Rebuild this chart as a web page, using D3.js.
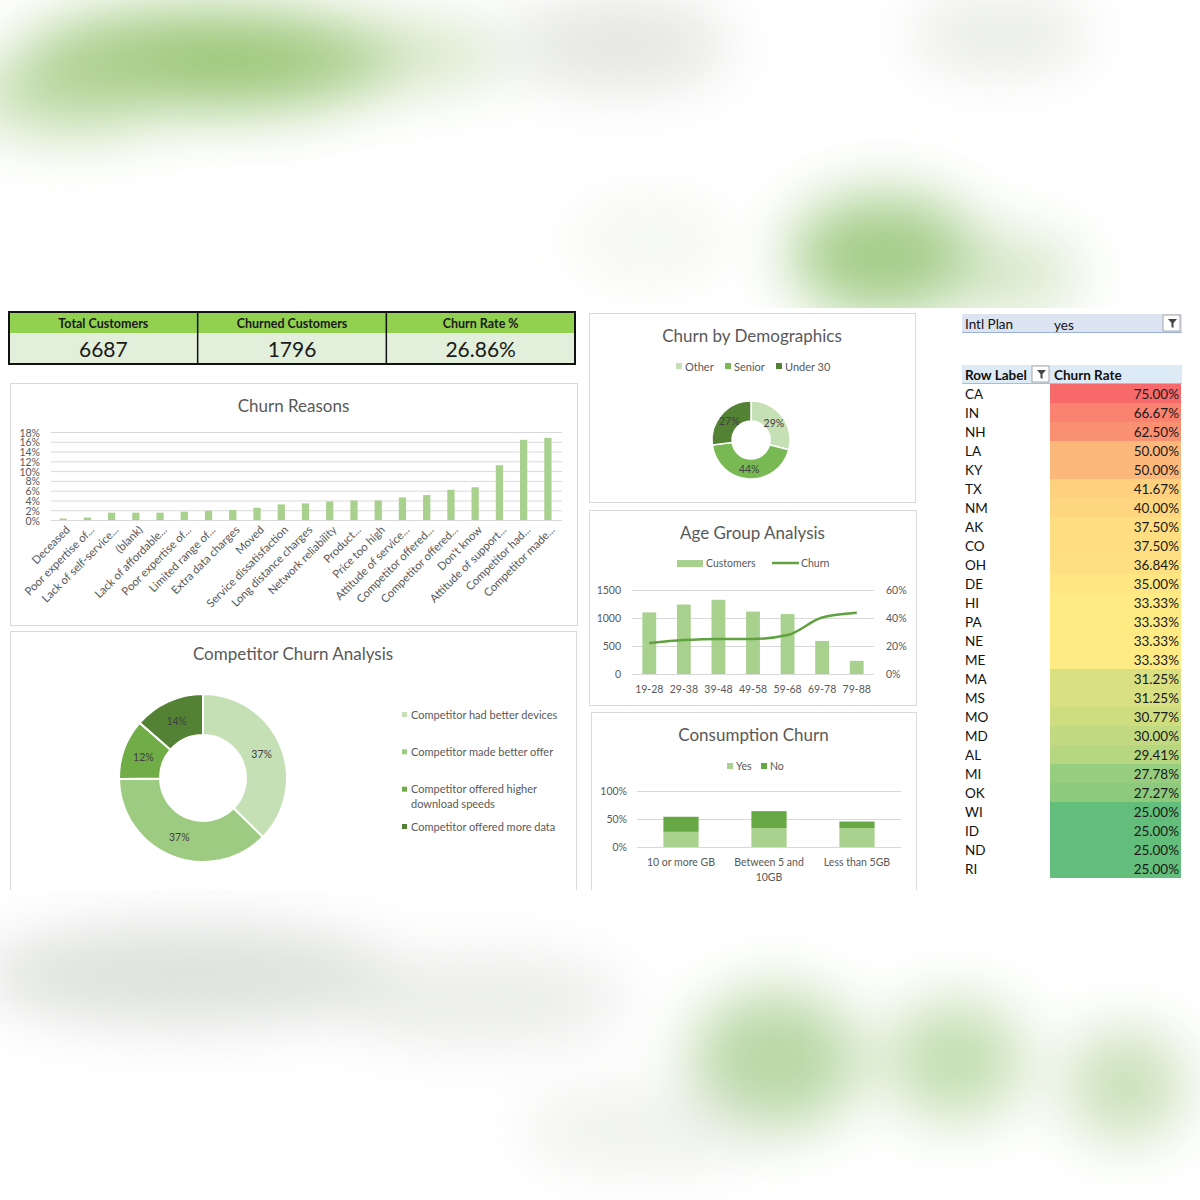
<!DOCTYPE html>
<html>
<head>
<meta charset="utf-8">
<script src="https://cdn.jsdelivr.net/npm/d3@7"></script>
<style>
  body { margin: 0; background: #fff; }
  svg { display: block; font-family: Lato, 'Open Sans', sans-serif; }
</style>
</head>
<body>
<svg id="chart" width="1200" height="1200"></svg>
<script>
// ---- data ----
const kpiLabels = ['Total Customers', 'Churned Customers', 'Churn Rate %'];
const kpiValues = ['6687', '1796', '26.86%'];

const reasonLabels = [
  'Deceased', 'Poor expertise of...', 'Lack of self-service...', '(blank)',
  'Lack of affordable...', 'Poor expertise of...', 'Limited range of...',
  'Extra data charges', 'Moved', 'Service dissatisfaction', 'Long distance charges',
  'Network reliability', 'Product...', 'Price too high', 'Attitude of service...',
  'Competitor offered...', 'Competitor offered...', "Don't know",
  'Attitude of support...', 'Competitor had...', 'Competitor made...'
];
const reasonShares = [
  0.003, 0.005, 0.015, 0.015, 0.015, 0.017, 0.019, 0.0205, 0.025, 0.032, 0.034,
  0.038, 0.040, 0.040, 0.046, 0.051, 0.062, 0.067, 0.112, 0.164, 0.168
];

const competitorLabels = [
  'Competitor had better devices', 'Competitor made better offer',
  'Competitor offered higher download speeds', 'Competitor offered more data'
];
const competitorShares = [37.4, 37.4, 11.6, 13.6];

const demoGroups = ['Other', 'Senior', 'Under 30'];
const demoShares = [29, 44, 27];

const ageGroups = ['19-28', '29-38', '39-48', '49-58', '59-68', '69-78', '79-88'];
const ageCustomers = [1100, 1240, 1325, 1115, 1070, 590, 235];
const ageChurn = [0.221, 0.242, 0.25, 0.25, 0.278, 0.403, 0.437];

const usageGroups = ['10 or more GB', 'Between 5 and 10GB', 'Less than 5GB'];
const usageYes = [0.27, 0.34, 0.34];
const usageNo = [0.27, 0.30, 0.115];

const states = ['CA', 'IN', 'NH', 'LA', 'KY', 'TX', 'NM', 'AK', 'CO', 'OH', 'DE', 'HI', 'PA',
  'NE', 'ME', 'MA', 'MS', 'MO', 'MD', 'AL', 'MI', 'OK', 'WI', 'ID', 'ND', 'RI'];
const stateRates = [75.00, 66.67, 62.50, 50.00, 50.00, 41.67, 40.00, 37.50, 37.50, 36.84, 35.00,
  33.33, 33.33, 33.33, 33.33, 31.25, 31.25, 30.77, 30.00, 29.41, 27.78, 27.27, 25.00, 25.00, 25.00, 25.00];

// ---- styles ----
const grey = '#595959';
const gridColor = '#D9D9D9';
const greens = { pale: '#C5E0B4', light: '#A9D18E', mid: '#70AD47', dark: '#548235' };
const mid = '0.42em';

const svg = d3.select('#chart');

// ---- blurred backdrop ----
const defs = svg.append('defs');
defs.append('filter')
  .attr('id', 'blur')
  .attr('x', '-100%').attr('y', '-100%')
  .attr('width', '300%').attr('height', '300%')
  .append('feGaussianBlur')
  .attr('stdDeviation', 30);
defs.append('clipPath')
  .attr('id', 'board')
  .append('rect')
  .attr('x', 0).attr('y', 308).attr('width', 1200).attr('height', 582);

const blobs = [
  [210, 60, 190, 50, '#97C472', 0.95], [70, 95, 100, 40, '#B4D499', 0.8],
  [410, 55, 100, 32, '#B3D198', 0.55], [620, 45, 110, 45, '#D8DCD5', 0.7],
  [1000, 35, 90, 35, '#E1E5DE', 0.8], [885, 255, 95, 60, '#9FCA82', 0.95],
  [1010, 275, 70, 40, '#C4DDB2', 0.7], [650, 240, 80, 40, '#EEF2EA', 0.6],
  [190, 975, 210, 50, '#D6D9D4', 0.8], [480, 1000, 150, 45, '#E3E5E1', 0.7],
  [775, 1060, 85, 70, '#B3D49C', 0.9], [955, 1060, 70, 60, '#BAD8A4', 0.85],
  [1125, 1085, 60, 55, '#BBD7A5', 0.8], [640, 1130, 120, 40, '#E6E9E3', 0.6]
];
svg.append('g')
  .attr('filter', 'url(#blur)')
  .selectAll('ellipse')
  .data(blobs)
  .join('ellipse')
  .attr('cx', d => d[0]).attr('cy', d => d[1])
  .attr('rx', d => d[2]).attr('ry', d => d[3])
  .attr('fill', d => d[4]).attr('opacity', d => d[5]);

const board = svg.append('g').attr('clip-path', 'url(#board)');
board.append('rect')
  .attr('x', 0).attr('y', 308).attr('width', 1200).attr('height', 582)
  .attr('fill', '#fff');

// ---- helpers ----
const panel = (x, y, w, h, title, titleY) => {
  const g = board.append('g');
  g.append('rect')
    .attr('x', x + 0.5).attr('y', y + 0.5)
    .attr('width', w).attr('height', h)
    .attr('fill', '#fff').attr('stroke', gridColor);
  g.append('text')
    .attr('x', x + w / 2).attr('y', titleY)
    .attr('dy', mid)
    .attr('text-anchor', 'middle')
    .attr('font-size', 17)
    .attr('fill', grey)
    .text(title);
  return g;
};

const styleAxis = (g, size) => {
  g.select('.domain').remove();
  g.selectAll('.tick line').attr('stroke', gridColor);
  g.selectAll('.tick text').attr('fill', grey).attr('font-size', size).attr('font-family', 'Lato, sans-serif');
};

const wrapText = (text, width) => {
  text.each(function() {
    const self = d3.select(this);
    const words = self.text().split(' ');
    const x = self.attr('x') || 0;
    let line = [];
    let tspan = self.text(null).append('tspan').attr('x', x);
    words.forEach(w => {
      line.push(w);
      tspan.text(line.join(' '));
      if (tspan.node().getComputedTextLength() > width && line.length > 1) {
        line.pop();
        tspan.text(line.join(' '));
        line = [w];
        tspan = self.append('tspan').attr('x', x).attr('dy', '1.35em').text(w);
      }
    });
  });
};

const legendSquare = (g, x, y, color, label, size) => {
  g.append('rect')
    .attr('x', x).attr('y', y - 3)
    .attr('width', 6).attr('height', 6)
    .attr('fill', color);
  g.append('text')
    .attr('x', x + 9).attr('y', y)
    .attr('dy', mid)
    .attr('font-size', size || 10.5)
    .attr('fill', grey)
    .text(label);
};

// ---- KPI strip ----
const kpi = board.append('g');
const kpiX = d3.scaleBand().domain(d3.range(kpiLabels.length)).range([9, 575]);
kpi.selectAll('rect.head')
  .data(kpiLabels)
  .join('rect')
  .attr('class', 'head')
  .attr('x', (d, i) => kpiX(i)).attr('y', 312)
  .attr('width', kpiX.bandwidth()).attr('height', 21)
  .attr('fill', '#92D050');
kpi.selectAll('rect.val')
  .data(kpiValues)
  .join('rect')
  .attr('class', 'val')
  .attr('x', (d, i) => kpiX(i)).attr('y', 333)
  .attr('width', kpiX.bandwidth()).attr('height', 31)
  .attr('fill', '#E2EFDA');
kpi.selectAll('line.div')
  .data(d3.range(1, kpiLabels.length))
  .join('line')
  .attr('class', 'div')
  .attr('x1', i => kpiX(i)).attr('x2', i => kpiX(i))
  .attr('y1', 312).attr('y2', 364)
  .attr('stroke', '#111').attr('stroke-width', 1.5);
kpi.append('rect')
  .attr('x', 9).attr('y', 312).attr('width', 566).attr('height', 52)
  .attr('fill', 'none').attr('stroke', '#111').attr('stroke-width', 2);
kpi.selectAll('text.head')
  .data(kpiLabels)
  .join('text')
  .attr('class', 'head')
  .attr('x', (d, i) => kpiX(i) + kpiX.bandwidth() / 2).attr('y', 323)
  .attr('dy', mid)
  .attr('text-anchor', 'middle')
  .attr('font-size', 12.5).attr('font-weight', 'bold').attr('fill', '#1a1a1a')
  .text(d => d);
kpi.selectAll('text.val')
  .data(kpiValues)
  .join('text')
  .attr('class', 'val')
  .attr('x', (d, i) => kpiX(i) + kpiX.bandwidth() / 2).attr('y', 348)
  .attr('dy', mid)
  .attr('text-anchor', 'middle')
  .attr('font-size', 21).attr('fill', '#1a1a1a')
  .text(d => d);

// ---- Churn Reasons ----
{
  const g = panel(10, 383, 567, 242, 'Churn Reasons', 405);
  const x = d3.scaleBand().domain(d3.range(reasonLabels.length)).range([51, 560])
    .paddingInner(0.7).paddingOuter(0.35);
  const y = d3.scaleLinear().domain([0, 0.18]).range([520, 432]);

  g.append('g')
    .attr('transform', 'translate(51,0)')
    .call(d3.axisLeft(y).tickValues(d3.range(0, 0.181, 0.02)).tickFormat(d3.format('.0%'))
      .tickSize(-511).tickPadding(11))
    .call(ax => styleAxis(ax, 10.5))
    .call(ax => ax.selectAll('.tick text').attr('dy', '0.38em'));

  g.selectAll('rect.bar')
    .data(reasonShares)
    .join('rect')
    .attr('class', 'bar')
    .attr('x', (d, i) => x(i)).attr('width', x.bandwidth())
    .attr('y', d => y(d)).attr('height', d => y(0) - y(d))
    .attr('fill', greens.light);

  g.append('g')
    .attr('transform', 'translate(0,520)')
    .call(d3.axisBottom(x).tickSize(0).tickFormat(i => reasonLabels[i]))
    .call(ax => styleAxis(ax, 11.3))
    .call(ax => ax.selectAll('.tick text')
      .attr('text-anchor', 'end')
      .attr('transform', 'translate(2,5) rotate(-45)')
      .attr('dy', '0.7em').attr('y', 0).attr('x', 0));
}

// ---- Competitor Churn Analysis ----
{
  const g = panel(10, 631, 566, 270, 'Competitor Churn Analysis', 653);
  const colors = d3.scaleOrdinal().domain(competitorLabels)
    .range([greens.pale, '#9DCB81', greens.mid, greens.dark]);
  const pie = d3.pie().sort(null).value(d => d.v);
  const arcs = pie(competitorLabels.map((k, i) => ({ k, v: competitorShares[i] })));
  const arc = d3.arc().innerRadius(43).outerRadius(84);
  const total = d3.sum(competitorShares);
  const dg = g.append('g').attr('transform', 'translate(203,778)');
  dg.selectAll('path')
    .data(arcs)
    .join('path')
    .attr('d', arc)
    .attr('fill', d => colors(d.data.k))
    .attr('stroke', '#fff').attr('stroke-width', 2);
  dg.selectAll('text')
    .data(arcs)
    .join('text')
    .attr('transform', d => 'translate(' + arc.centroid(d) + ')')
    .attr('dy', mid)
    .attr('text-anchor', 'middle')
    .attr('font-size', 10.5).attr('fill', '#404040')
    .text(d => Math.round(d.data.v / total * 100) + '%');

  const lg = g.append('g');
  const legendY = d3.scalePoint().domain(competitorLabels).range([714, 826]);
  competitorLabels.forEach(k => {
    lg.append('rect')
      .attr('x', 402).attr('y', legendY(k) - 2)
      .attr('width', 5).attr('height', 5)
      .attr('fill', colors(k));
  });
  lg.selectAll('text')
    .data(competitorLabels)
    .join('text')
    .attr('x', 411).attr('y', k => legendY(k))
    .attr('dy', mid)
    .attr('font-size', 11).attr('fill', grey)
    .text(k => k)
    .call(wrapText, 155);
}

// ---- Churn by Demographics ----
{
  const g = panel(589, 313, 326, 189, 'Churn by Demographics', 335);
  const colors = d3.scaleOrdinal().domain(demoGroups).range([greens.pale, '#78B954', greens.dark]);
  const legendX = d3.scaleOrdinal().domain(demoGroups).range([676, 725, 776]);
  demoGroups.forEach(k => legendSquare(g, legendX(k), 366, colors(k), k, 11));

  const pie = d3.pie().sort(null).value(d => d.v);
  const arcs = pie(demoGroups.map((k, i) => ({ k, v: demoShares[i] })));
  const arc = d3.arc().innerRadius(19).outerRadius(39);
  const dg = g.append('g').attr('transform', 'translate(751,440)');
  dg.selectAll('path')
    .data(arcs)
    .join('path')
    .attr('d', arc)
    .attr('fill', d => colors(d.data.k))
    .attr('stroke', '#fff').attr('stroke-width', 1.5);
  dg.selectAll('text')
    .data(arcs)
    .join('text')
    .attr('transform', d => 'translate(' + arc.centroid(d) + ')')
    .attr('dy', mid)
    .attr('text-anchor', 'middle')
    .attr('font-size', 10.5).attr('fill', '#404040')
    .text(d => d.data.v + '%');
}

// ---- Age Group Analysis ----
{
  const g = panel(589, 510, 327, 195, 'Age Group Analysis', 532);
  const x = d3.scaleBand().domain(ageGroups).range([632, 874]).paddingInner(0.6).paddingOuter(0.3);
  const yL = d3.scaleLinear().domain([0, 1500]).range([674, 590]);
  const yR = d3.scaleLinear().domain([0, 0.6]).range([674, 590]);

  g.append('g')
    .attr('transform', 'translate(632,0)')
    .call(d3.axisLeft(yL).tickValues([0, 500, 1000, 1500]).tickFormat(d3.format('d'))
      .tickSize(-242).tickPadding(11))
    .call(ax => styleAxis(ax, 10.5));
  g.append('g')
    .attr('transform', 'translate(874,0)')
    .call(d3.axisRight(yR).tickValues([0, 0.2, 0.4, 0.6]).tickFormat(d3.format('.0%')).tickSize(0).tickPadding(12))
    .call(ax => styleAxis(ax, 10.5));

  g.selectAll('rect.bar')
    .data(ageCustomers)
    .join('rect')
    .attr('class', 'bar')
    .attr('x', (d, i) => x(ageGroups[i])).attr('width', x.bandwidth())
    .attr('y', d => yL(d)).attr('height', d => yL(0) - yL(d))
    .attr('fill', greens.light);

  const line = d3.line()
    .x((d, i) => x(ageGroups[i]) + x.bandwidth() / 2)
    .y(d => yR(d))
    .curve(d3.curveMonotoneX);
  g.append('path')
    .datum(ageChurn)
    .attr('d', line)
    .attr('fill', 'none')
    .attr('stroke', '#5FA23F').attr('stroke-width', 2.5);

  g.append('g')
    .attr('transform', 'translate(0,674)')
    .call(d3.axisBottom(x).tickSize(0).tickPadding(12))
    .call(ax => styleAxis(ax, 10.5));

  // legend
  g.append('rect').attr('x', 677).attr('y', 560).attr('width', 26).attr('height', 7).attr('fill', greens.light);
  g.append('text').attr('x', 706).attr('y', 563).attr('dy', mid)
    .attr('font-size', 10.5).attr('fill', grey).text('Customers');
  g.append('line').attr('x1', 772).attr('x2', 799).attr('y1', 563).attr('y2', 563)
    .attr('stroke', '#5FA23F').attr('stroke-width', 2.5);
  g.append('text').attr('x', 801).attr('y', 563).attr('dy', mid)
    .attr('font-size', 10.5).attr('fill', grey).text('Churn');
}

// ---- Consumption Churn ----
{
  const g = panel(591, 712, 325, 190, 'Consumption Churn', 734);
  const x = d3.scaleBand().domain(usageGroups).range([637, 901]).paddingInner(0.6).paddingOuter(0.3);
  const y = d3.scaleLinear().domain([0, 1]).range([847, 791]);
  const colors = { Yes: greens.light, No: '#66A944' };

  legendSquare(g, 727, 766, colors.Yes, 'Yes', 10.5);
  legendSquare(g, 761, 766, colors.No, 'No', 10.5);

  g.append('g')
    .attr('transform', 'translate(637,0)')
    .call(d3.axisLeft(y).tickValues([0, 0.5, 1]).tickFormat(d3.format('.0%')).tickSize(-264).tickPadding(10))
    .call(ax => styleAxis(ax, 10.5));

  const stack = d3.stack().keys(['Yes', 'No']);
  const series = stack(usageGroups.map((k, i) => ({ k, Yes: usageYes[i], No: usageNo[i] })));
  g.selectAll('g.series')
    .data(series)
    .join('g')
    .attr('class', 'series')
    .attr('fill', s => colors[s.key])
    .selectAll('rect')
    .data(s => s)
    .join('rect')
    .attr('x', d => x(d.data.k)).attr('width', x.bandwidth())
    .attr('y', d => y(d[1])).attr('height', d => y(d[0]) - y(d[1]));

  g.append('g')
    .attr('transform', 'translate(0,847)')
    .call(d3.axisBottom(x).tickSize(0).tickPadding(12))
    .call(ax => styleAxis(ax, 10.5))
    .call(ax => ax.selectAll('.tick text').call(wrapText, 80));
}

// ---- Intl Plan pivot ----
{
  const g = board.append('g').attr('font-size', 13.5);
  const funnel = (px, py) => {
    g.append('rect').attr('x', px).attr('y', py).attr('width', 17).attr('height', 16)
      .attr('fill', '#fff').attr('stroke', '#A6A6A6');
    g.append('path')
      .attr('d', 'M' + (px + 5) + ',' + (py + 4) + ' h9 l-3.5,4 v5 l-2,-1 v-4 z')
      .attr('fill', '#444');
  };

  g.append('rect').attr('x', 962).attr('y', 314).attr('width', 220).attr('height', 18).attr('fill', '#DCE3F1');
  g.append('line').attr('x1', 962).attr('x2', 1182).attr('y1', 332.5).attr('y2', 332.5).attr('stroke', '#9BB0D6');
  g.append('text').attr('x', 965).attr('y', 323).attr('dy', mid).attr('fill', '#111').text('Intl Plan');
  g.append('text').attr('x', 1054).attr('y', 324).attr('dy', mid).attr('fill', '#111').text('yes');
  funnel(1163, 315);

  g.append('rect').attr('x', 962).attr('y', 365).attr('width', 220).attr('height', 18).attr('fill', '#DDEBF7');
  g.append('line').attr('x1', 962).attr('x2', 1182).attr('y1', 383.5).attr('y2', 383.5).attr('stroke', '#9BC2E6');
  g.append('text').attr('x', 965).attr('y', 374).attr('dy', mid)
    .attr('font-weight', 'bold').attr('fill', '#111').text('Row Label');
  funnel(1032, 366);
  g.append('text').attr('x', 1054).attr('y', 374).attr('dy', mid)
    .attr('font-weight', 'bold').attr('fill', '#111').text('Churn Rate');

  const rowY = d3.scaleBand().domain(states).range([384, 384 + 19 * states.length]);
  const rateColor = d3.scaleLinear()
    .domain([d3.min(stateRates), d3.median(stateRates), d3.max(stateRates)])
    .range(['#63BE7B', '#FFEB84', '#F8696B']);

  g.selectAll('rect.cell')
    .data(stateRates)
    .join('rect')
    .attr('class', 'cell')
    .attr('x', 1050).attr('width', 131)
    .attr('y', (d, i) => rowY(states[i])).attr('height', rowY.bandwidth())
    .attr('fill', d => rateColor(d));
  g.selectAll('text.state')
    .data(states)
    .join('text')
    .attr('class', 'state')
    .attr('x', 965).attr('y', s => rowY(s) + rowY.bandwidth() / 2)
    .attr('dy', mid).attr('fill', '#111')
    .text(s => s);
  g.selectAll('text.rate')
    .data(stateRates)
    .join('text')
    .attr('class', 'rate')
    .attr('x', 1179).attr('y', (d, i) => rowY(states[i]) + rowY.bandwidth() / 2)
    .attr('dy', mid)
    .attr('text-anchor', 'end').attr('fill', '#1a1a1a')
    .text(d => d.toFixed(2) + '%');
}
</script>
</body>
</html>
